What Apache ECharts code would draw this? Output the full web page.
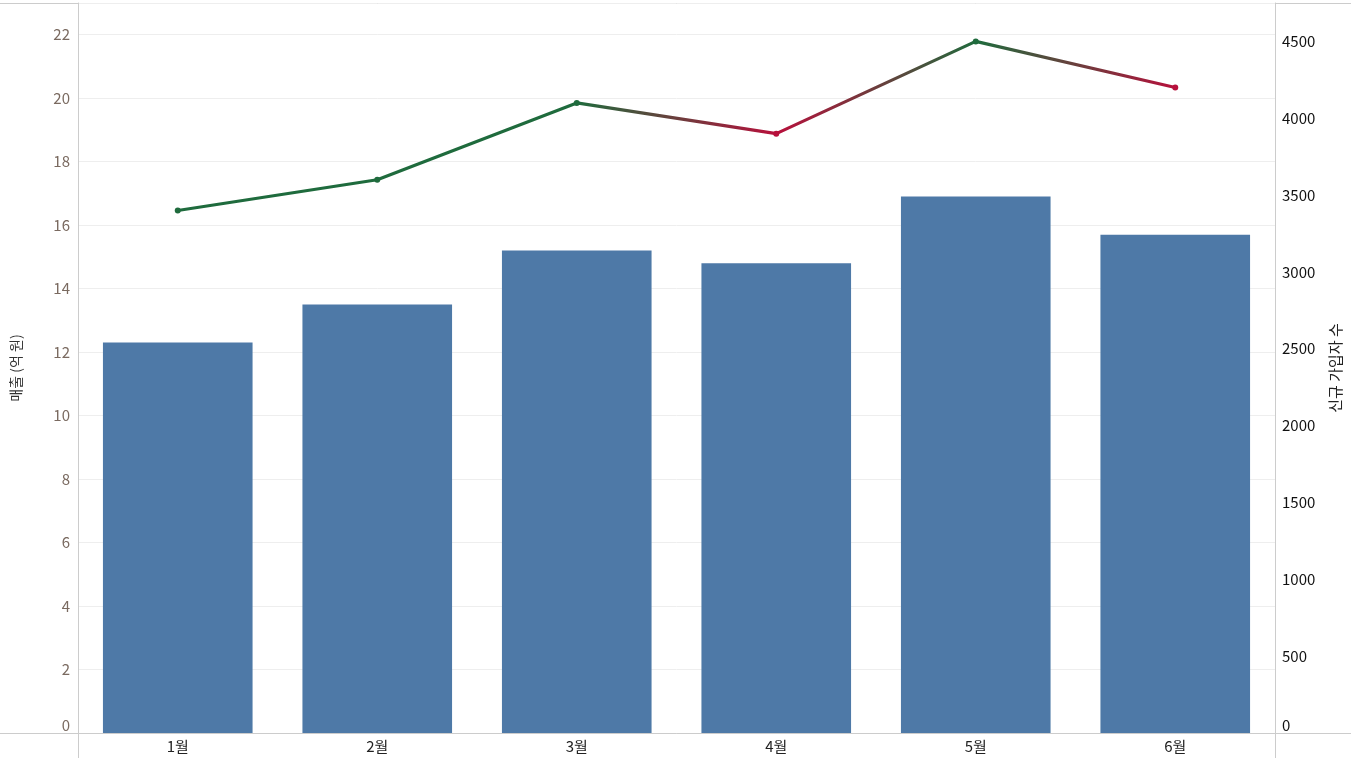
<!DOCTYPE html>
<html><head><meta charset="utf-8">
<script src="https://cdn.jsdelivr.net/npm/echarts@6/dist/echarts.min.js"></script>
<style>html,body{margin:0;padding:0;background:#fff}#c{width:1351px;height:758px}</style>
</head><body><div id="c"></div>
<script>
const categories = ['1월','2월','3월','4월','5월','6월'];
const revenue = [12.3, 13.5, 15.2, 14.8, 16.9, 15.7];
const subscribers = [3400, 3600, 4100, 3900, 4500, 4200];
const leftAxisName = '매출 (억 원)';
const rightAxisName = '신규 가입자 수';

const GREEN = '#1f6b3d', RED = '#b8103c';
const trendColors = subscribers.map((v, i) => (i === 0 || v >= subscribers[i - 1]) ? GREEN : RED);
const lineGradient = new echarts.graphic.LinearGradient(0, 0, 1, 0,
  trendColors.map((c, i) => ({ offset: i / (trendColors.length - 1), color: c })));
const lineData = subscribers.map((v, i) => ({ value: v, itemStyle: { color: trendColors[i] } }));

const FONT = '"Noto Sans CJK KR", "Noto Sans", sans-serif';
const chart = echarts.init(document.getElementById('c'));
chart.setOption({
  animation: false,
  textStyle: { fontFamily: FONT },
  grid: { left: 78, right: 76, top: 3, bottom: 25, outerBoundsMode: 'none', containLabel: false },
  xAxis: {
    type: 'category', data: categories,
    axisLine: { lineStyle: { color: '#cccccc' } },
    axisTick: { show: false },
    axisLabel: { color: '#222', fontSize: 15, fontFamily: FONT, margin: 6 }
  },
  yAxis: [{
    type: 'value', min: 0, max: 23, interval: 2,
    name: leftAxisName, nameLocation: 'middle', nameGap: 55, nameRotate: 90,
    nameTextStyle: { color: '#333', fontSize: 14, fontFamily: FONT },
    axisLine: { show: true, lineStyle: { color: '#cccccc' } },
    axisTick: { show: false },
    splitLine: { lineStyle: { color: '#eeeeee' } },
    axisLabel: { color: '#7a6a60', fontSize: 15, fontFamily: FONT, margin: 8, showMaxLabel: false, verticalAlignMinLabel: 'bottom' }
  }, {
    type: 'value', min: 0, max: 4750, interval: 500,
    name: rightAxisName, nameLocation: 'middle', nameGap: 53, nameRotate: 90,
    nameTextStyle: { color: '#222', fontSize: 15, fontFamily: FONT },
    axisLine: { show: true, lineStyle: { color: '#cccccc' } },
    axisTick: { show: false },
    splitLine: { show: false },
    axisLabel: { color: '#111', fontSize: 15, fontFamily: FONT, margin: 7, showMaxLabel: false, verticalAlignMinLabel: 'bottom',
      formatter: v => String(v) }
  }],
  series: [{
    type: 'bar', data: revenue, yAxisIndex: 0, barWidth: '75%',
    itemStyle: { color: '#4e79a7' }
  }, {
    type: 'line', data: lineData, yAxisIndex: 1,
    symbol: 'circle', symbolSize: 6,
    lineStyle: { width: 3.2, color: lineGradient }
  }],
  graphic: [
    { type: 'line', shape: { x1: 0, y1: 3.5, x2: 1351, y2: 3.5 }, style: { stroke: '#cccccc', lineWidth: 1 } },
    { type: 'line', shape: { x1: 0, y1: 733.5, x2: 1351, y2: 733.5 }, style: { stroke: '#cccccc', lineWidth: 1 } },
    { type: 'line', shape: { x1: 78.5, y1: 733, x2: 78.5, y2: 758 }, style: { stroke: '#cccccc', lineWidth: 1 } },
    { type: 'line', shape: { x1: 1275.5, y1: 733, x2: 1275.5, y2: 758 }, style: { stroke: '#cccccc', lineWidth: 1 } }
  ]
});
</script></body></html>
